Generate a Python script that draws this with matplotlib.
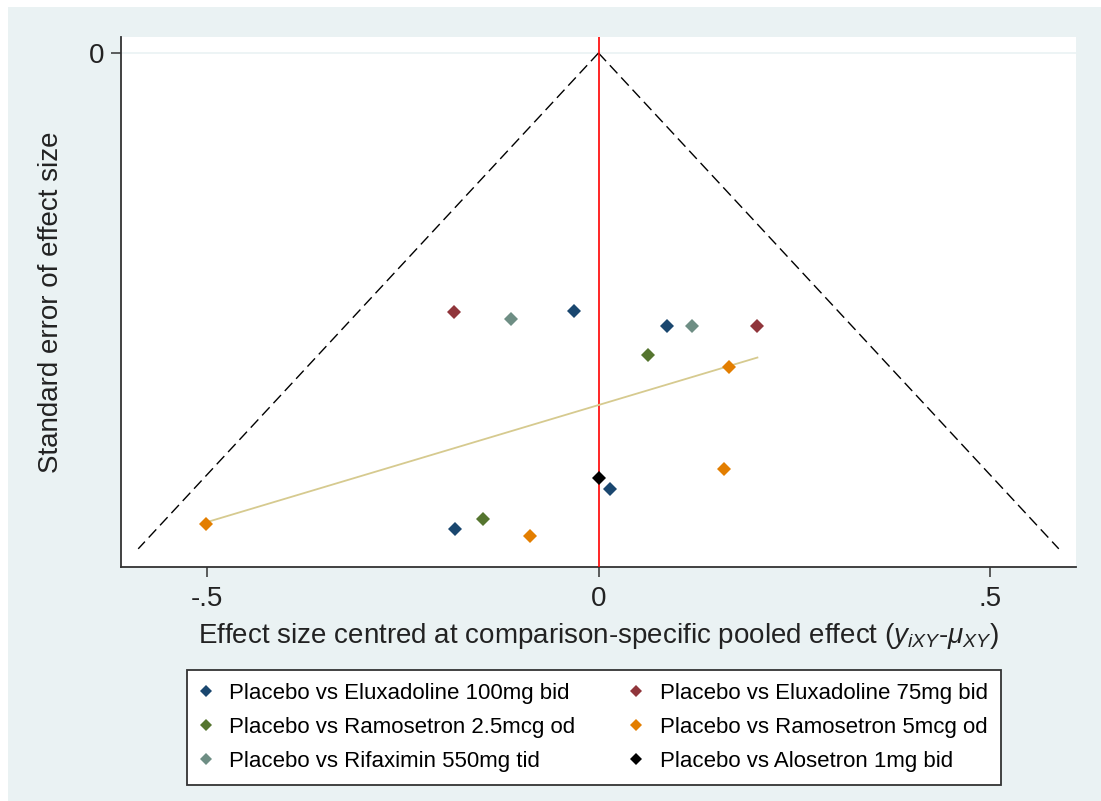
import numpy as np
import matplotlib.pyplot as plt
from matplotlib.patches import Rectangle
from matplotlib.lines import Line2D

plt.rcParams['font.family'] = ['Liberation Sans', 'DejaVu Sans']
plt.rcParams['mathtext.fontset'] = 'custom'
plt.rcParams['mathtext.it'] = 'Liberation Sans:italic'
plt.rcParams['mathtext.rm'] = 'Liberation Sans'

# effect size centred at pooled effect (x) and its standard error (se)
e100_x = [-0.031, 0.088, 0.015, -0.183]
e100_se = [0.156, 0.165, 0.264, 0.288]
e75_x = [-0.185, 0.203]
e75_se = [0.157, 0.165]
r25_x = [0.063, -0.148]
r25_se = [0.183, 0.282]
r5_x = [0.167, 0.160, -0.501, -0.087]
r5_se = [0.190, 0.252, 0.285, 0.292]
rif_x = [-0.112, 0.119]
rif_se = [0.161, 0.165]
alo_x = [0.0]
alo_se = [0.257]

labels = ['Placebo vs Eluxadoline 100mg bid', 'Placebo vs Eluxadoline 75mg bid',
          'Placebo vs Ramosetron 2.5mcg od', 'Placebo vs Ramosetron 5mcg od',
          'Placebo vs Rifaximin 550mg tid', 'Placebo vs Alosetron 1mg bid']
colors = ['#1a476f', '#90353b', '#55752f', '#e37e00', '#6e8e84', '#000000']

# fitted line
fit_intercept = 0.213
fit_slope = -0.1416
se_max = 0.30

series = [(e100_x, e100_se), (e75_x, e75_se), (r25_x, r25_se),
          (r5_x, r5_se), (rif_x, rif_se), (alo_x, alo_se)]

W, H = 1101, 801
fig = plt.figure(figsize=(W / 100, H / 100), dpi=100)
fig.patch.set_facecolor('white')
fig.patches.append(Rectangle((8 / W, 0), 1 - 8 / W, 1 - 7 / H, transform=fig.transFigure,
                             facecolor='#eaf2f3', edgecolor='none', zorder=-10))

ax = fig.add_axes([121 / W, 1 - 567 / H, (1076 - 121) / W, (567 - 37) / H])
ax.set_facecolor('white')

# funnel
se_line = np.array([0, se_max])
ax.plot(-1.96 * se_line, se_line, color='black', lw=1.0, dashes=(8, 4), zorder=2)
ax.plot(1.96 * se_line, se_line, color='black', lw=1.0, dashes=(8, 4), zorder=2)
ax.axvline(0, color='red', lw=1.2, zorder=3)
ax.axhline(0, color='#eaf2f3', lw=1.2, zorder=1)

# fitted line across the range of the data
all_x = np.concatenate([np.array(s[0]) for s in series])
fx = np.array([all_x.min(), all_x.max()])
ax.plot(fx, fit_intercept + fit_slope * fx, color='#d6ca8f', lw=1.3, zorder=3)

for (xs, ses), c in zip(series, colors):
    ax.plot(xs, ses, linestyle='none', marker='D', markersize=6.8, color=c,
            markeredgewidth=0, zorder=4)

ax.set_xlim(-0.61, 0.61)
ax.set_ylim(0.311, -0.0097)
ax.set_xticks([-0.5, 0, 0.5])
ax.set_xticklabels(['-.5', '0', '.5'])
ax.set_yticks([0])
ax.set_yticklabels(['0'])
ax.tick_params(axis='both', length=7, width=1.1, color='#333333', labelsize=20,
               labelcolor='#222222')
ax.tick_params(axis='x', pad=7)
ax.tick_params(axis='y', pad=5)
for s in ['top', 'right']:
    ax.spines[s].set_visible(False)
for s in ['left', 'bottom']:
    ax.spines[s].set_color('#333333')
    ax.spines[s].set_linewidth(1.3)

ax.set_ylabel('Standard error of effect size', fontsize=20, color='#222222', labelpad=18)
ax.set_xlabel(r'Effect size centred at comparison-specific pooled effect ($y_{iXY}$-$\mu_{XY}$)',
              fontsize=20, color='#222222', labelpad=6)

handles = [Line2D([], [], linestyle='none', marker='D', markersize=6, color=c,
                  markeredgewidth=0) for c in colors]
order = [0, 2, 4, 1, 3, 5]
leg = fig.legend([handles[i] for i in order], [labels[i] for i in order], ncol=2,
                 loc='center', bbox_to_anchor=(594 / W, 1 - 727.5 / H), fontsize=16,
                 frameon=True, fancybox=False, edgecolor='#333333', facecolor='white',
                 framealpha=1, handlelength=0.5, handletextpad=0.8, labelspacing=0.58,
                 columnspacing=2.5, borderpad=0.6)
leg.get_frame().set_linewidth(1.3)

fig.savefig('out.png', dpi=100, facecolor=fig.get_facecolor())
